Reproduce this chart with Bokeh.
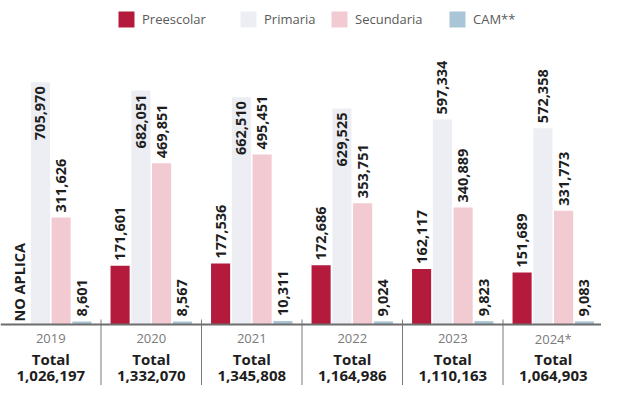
import numpy as np
from bokeh.plotting import figure
from bokeh.models import ColumnDataSource, Range1d, Span, Legend, LegendItem
from bokeh.core.properties import value
from bokeh.embed import file_html
from bokeh.resources import INLINE

# ---------------- data ----------------
years = ["2019", "2020", "2021", "2022", "2023", "2024*"]
preescolar = [np.nan, 171601, 177536, 172686, 162117, 151689]
primaria = [705970, 682051, 662510, 629525, 597334, 572358]
secundaria = [311626, 469851, 495451, 353751, 340889, 331773]
cam = [8601, 8567, 10311, 9024, 9823, 9083]
series_names = ["Preescolar", "Primaria", "Secundaria", "CAM**"]
not_applicable_label = "NO APLICA"
total_label = "Total"
# Primaria labels drawn inside the top of the bar (as in the source)
primaria_label_inside = [True, True, True, True, False, False]

# ---------------- style ----------------
W, H = 601, 385
UPX = 2915            # data units per pixel (vertical)
BASE_PX = 324         # baseline distance from top of the frame, px
GROUP_PX = 100.5      # width of one year group, px
colors = ["#b31a3b", "#eceef3", "#f1cad2", "#a9c5d6"]
offsets = [-0.31, -0.103, 0.103, 0.31]
bar_w = 0.19
FONT_NAME = "Open Sans"
FONT = value(FONT_NAME)
LABEL_SIZE = "14.5px"
DARK = "#1e1e1e"

n = len(years)
gx = np.arange(n, dtype=float)
series = [np.array(preescolar, dtype=float), np.array(primaria, dtype=float),
          np.array(secundaria, dtype=float), np.array(cam, dtype=float)]
totals = np.nansum(np.vstack(series), axis=0).astype(int)

y_start = -(H - BASE_PX) * UPX
y_end = BASE_PX * UPX
x_start = -0.5
x_end = x_start + W / GROUP_PX

p = figure(width=W, height=H, output_backend="svg", toolbar_location=None,
           x_range=Range1d(x_start, x_end), y_range=Range1d(y_start, y_end),
           min_border=0, min_border_left=0, min_border_right=0,
           min_border_top=0, min_border_bottom=0)
p.axis.visible = False
p.grid.visible = False
p.outline_line_color = None
p.background_fill_color = "white"

def fmt(v):
    return f"{int(v):,}"

renderers = []
for k, (vals, col) in enumerate(zip(series, colors)):
    src = ColumnDataSource(dict(x=gx + offsets[k], top=vals))
    r = p.vbar(x="x", top="top", width=bar_w, bottom=0, source=src,
               fill_color=col, line_color=None)
    renderers.append(r)

def add_labels(xs, ys, texts, align, yoff):
    if len(xs) == 0:
        return
    src = ColumnDataSource(dict(x=xs, y=ys, t=texts))
    p.text(x="x", y="y", text="t", source=src, angle=np.pi / 2,
           text_align=align, text_baseline="middle", y_offset=yoff,
           text_font=FONT, text_font_style="bold", text_font_size=LABEL_SIZE,
           text_color=DARK)

for k, vals in enumerate(series):
    xs, ys, ts, xi, yi, ti = [], [], [], [], [], []
    for i, v in enumerate(vals):
        if np.isnan(v):
            continue
        if k == 1 and primaria_label_inside[i]:
            xi.append(gx[i] + offsets[k]); yi.append(v); ti.append(fmt(v))
        else:
            xs.append(gx[i] + offsets[k]); ys.append(v); ts.append(fmt(v))
    add_labels(xs, ys, ts, "left", -5)
    add_labels(xi, yi, ti, "right", 4)

# NO APLICA where preescolar is missing
na_idx = [i for i, v in enumerate(series[0]) if np.isnan(v)]
add_labels([gx[i] + offsets[0] for i in na_idx], [0] * len(na_idx),
           [not_applicable_label] * len(na_idx), "left", -3)

# baseline
p.add_layout(Span(location=0, dimension="width", line_color="#6d6d6d", line_width=2))

# separators between years
sep_x = gx[:-1] + 0.5
p.segment(x0=sep_x, x1=sep_x, y0=[5 * UPX] * len(sep_x), y1=[y_start] * len(sep_x),
          line_color="#7a7a7a", line_width=1)

# bottom texts
zeros = [0] * n
p.text(x=gx, y=zeros, text=years, text_align="center", text_baseline="middle",
       y_offset=14, text_font=FONT, text_font_size="13px", text_color="#7a7a7a")
p.text(x=gx, y=zeros, text=[total_label] * n, text_align="center", text_baseline="middle",
       y_offset=34, text_font=FONT, text_font_style="bold", text_font_size="15px",
       text_color=DARK)
p.text(x=gx, y=zeros, text=[fmt(t) for t in totals], text_align="center",
       text_baseline="middle", y_offset=51, text_font=FONT, text_font_style="bold",
       text_font_size="15px", text_color=DARK)

# legend (one per item so spacing matches the source)
leg_x = [116, 238, 329, 447]
for k, name in enumerate(series_names):
    lg = Legend(items=[LegendItem(label=name, renderers=[renderers[k]])],
                location=(leg_x[k], H - 9 - 20), orientation="horizontal",
                glyph_width=20, glyph_height=20, label_height=20,
                label_standoff=6, padding=0, margin=0, spacing=0,
                border_line_color=None, background_fill_alpha=0,
                label_text_font=FONT_NAME, label_text_font_size="13px",
                label_text_color="#5a5a5a")
    p.add_layout(lg)

open("out.html", "w").write(file_html(p, INLINE))
